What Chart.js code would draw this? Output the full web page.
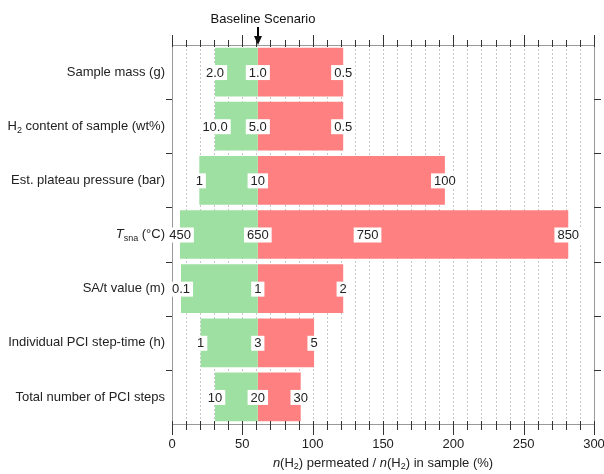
<!DOCTYPE html>
<html>
<head>
<meta charset="utf-8">
<script src="https://cdn.jsdelivr.net/npm/chart.js@4/dist/chart.umd.min.js"></script>
<style>
  html, body { margin: 0; padding: 0; background: #fff; }
  #tornado { display: block; }
</style>
</head>
<body>
<canvas id="tornado" width="604" height="474"></canvas>
<script>
// rows of the tornado, top to bottom
const categories = [
  'Sample mass (g)',
  'H_{2} content of sample (wt%)',
  'Est. plateau pressure (bar)',
  '*T*_{sna} (°C)',
  'SA/t value (m)',
  'Individual PCI step-time (h)',
  'Total number of PCI steps',
];
// n(H2) permeated / n(H2) in sample (%)
const baselinePct = 61;
const lowPct = [30.6, 30.6, 19.4, 5.7, 6.4, 20.4, 30.6];
const highPct = [121.7, 121.7, 194, 281.7, 121.7, 101, 91.5];
const midPct = [null, null, null, 139, null, null, null];
// parameter values written on the bars
const lowLabels = ['2.0', '10.0', '1', '450', '0.1', '1', '10'];
const baseLabels = ['1.0', '5.0', '10', '650', '1', '3', '20'];
const highLabels = ['0.5', '0.5', '100', '850', '2', '5', '30'];
const midLabels = [null, null, null, '750', null, null, null];
const xTicks = [0, 50, 100, 150, 200, 250, 300];
const xTitle = '*n*(H_{2}) permeated / *n*(H_{2}) in sample (%)';

const FONT = '"Liberation Sans", Arial, sans-serif';
const TEXT = '#222';

// draws text with *italic* and _{sub} parts
function richParts(text) {
  return text.split(/(\*[^*]+\*|_\{[^}]+\})/).filter((s) => s).map((s) => {
    if (s[0] === '*') return {t: s.slice(1, -1), style: 'italic', size: 13, dy: 0};
    if (s[0] === '_') return {t: s.slice(2, -1), style: 'normal', size: 9, dy: 4};
    return {t: s, style: 'normal', size: 13, dy: 0};
  });
}
function drawRich(ctx, text, x, y, align) {
  const parts = richParts(text);
  let w = 0;
  parts.forEach((p) => {
    ctx.font = `${p.style} ${p.size}px ${FONT}`;
    p.w = ctx.measureText(p.t).width;
    w += p.w;
  });
  let cx = align === 'right' ? x - w : align === 'center' ? x - w / 2 : x;
  ctx.textAlign = 'left';
  ctx.textBaseline = 'middle';
  parts.forEach((p) => {
    ctx.font = `${p.style} ${p.size}px ${FONT}`;
    ctx.fillText(p.t, cx, y + p.dy);
    cx += p.w;
  });
}

const decor = {
  id: 'decor',
  beforeDatasetsDraw(chart) {
    const {ctx, chartArea: a, scales} = chart;
    ctx.save();
    ctx.strokeStyle = '#c8c8c8';
    ctx.lineWidth = 1;
    ctx.setLineDash([2, 2]);
    for (let v = 10; v < 300; v += 10) {
      const x = Math.round(scales.x.getPixelForValue(v)) + 0.5;
      ctx.beginPath();
      ctx.moveTo(x, a.top);
      ctx.lineTo(x, a.bottom);
      ctx.stroke();
    }
    ctx.restore();
  },
  afterDraw(chart) {
    const {ctx, chartArea: a, scales} = chart;
    const xs = scales.x;
    ctx.save();
    // tick marks on top and bottom axes
    ctx.strokeStyle = '#333';
    ctx.lineWidth = 1;
    for (let v = 0; v <= 300; v += 10) {
      const x = Math.round(xs.getPixelForValue(v)) + 0.5;
      const major = v % 50 === 0;
      ctx.beginPath();
      ctx.moveTo(x, a.top - (major ? 10 : 5));
      ctx.lineTo(x, a.top + 2);
      ctx.moveTo(x, a.bottom - 3);
      ctx.lineTo(x, a.bottom + (major ? 11 : 6));
      ctx.stroke();
    }
    // tick labels of the bottom axis
    ctx.fillStyle = TEXT;
    ctx.font = `13px ${FONT}`;
    ctx.textAlign = 'center';
    ctx.textBaseline = 'middle';
    xTicks.forEach((v) => ctx.fillText(String(v), xs.getPixelForValue(v), 444));
    // category boundary ticks on left and right axes
    const step = (a.bottom - a.top) / categories.length;
    for (let i = 1; i < categories.length; i++) {
      const y = Math.round(a.top + i * step) + 0.5;
      ctx.beginPath();
      ctx.moveTo(a.left - 6, y);
      ctx.lineTo(a.left, y);
      ctx.moveTo(a.right, y);
      ctx.lineTo(a.right + 7, y);
      ctx.stroke();
    }
    // row names
    ctx.fillStyle = TEXT;
    chart.getDatasetMeta(0).data.forEach((bar, i) => {
      drawRich(ctx, categories[i], a.left - 7, bar.y, 'right');
    });
    // value labels on the bars
    const label = (txt, v, y) => {
      if (txt === null || v === null) return;
      ctx.font = `13px ${FONT}`;
      const x = xs.getPixelForValue(v);
      const w = ctx.measureText(txt).width + 6;
      ctx.fillStyle = '#fff';
      ctx.fillRect(x - w / 2, y - 7, w, 15);
      ctx.fillStyle = TEXT;
      ctx.textAlign = 'center';
      ctx.textBaseline = 'middle';
      ctx.fillText(txt, x, y + 1);
    };
    chart.getDatasetMeta(0).data.forEach((bar, i) => {
      label(lowLabels[i], lowPct[i], bar.y);
      label(baseLabels[i], baselinePct, bar.y);
      label(highLabels[i], highPct[i], bar.y);
      label(midLabels[i], midPct[i], bar.y);
    });
    // baseline marker
    const xb = Math.round(xs.getPixelForValue(baselinePct));
    ctx.fillStyle = '#111';
    ctx.font = `13px ${FONT}`;
    ctx.textAlign = 'center';
    ctx.textBaseline = 'middle';
    ctx.fillText('Baseline Scenario', xb + 5, 19);
    ctx.strokeStyle = '#000';
    ctx.lineWidth = 2;
    ctx.beginPath();
    ctx.moveTo(xb, 27);
    ctx.lineTo(xb, 38);
    ctx.stroke();
    ctx.beginPath();
    ctx.moveTo(xb - 4, 36);
    ctx.lineTo(xb + 4, 36);
    ctx.lineTo(xb, a.top);
    ctx.closePath();
    ctx.fill();
    // axis title
    ctx.fillStyle = TEXT;
    drawRich(ctx, xTitle, (a.left + a.right) / 2, 463, 'center');
    ctx.restore();
  },
};

const axisBorder = {display: true, color: '#999', width: 1};

new Chart(document.getElementById('tornado'), {
  type: 'bar',
  data: {
    labels: categories,
    datasets: [
      {
        data: lowPct.map((v) => [v, baselinePct]),
        backgroundColor: '#9de0a1',
      },
      {
        data: highPct.map((v) => [baselinePct, v]),
        backgroundColor: '#ff8080',
      },
    ],
  },
  plugins: [decor],
  options: {
    indexAxis: 'y',
    responsive: false,
    animation: false,
    layout: {padding: 0},
    datasets: {
      bar: {grouped: false, barPercentage: 0.9, categoryPercentage: 1, borderWidth: 0},
    },
    plugins: {legend: {display: false}, tooltip: {enabled: false}},
    scales: {
      x: {
        type: 'linear', position: 'bottom', min: 0, max: 300,
        grid: {display: false}, border: axisBorder, ticks: {display: false},
        afterFit: (s) => { s.height = 50; },
      },
      x2: {
        type: 'linear', position: 'top', min: 0, max: 300,
        grid: {display: false}, border: axisBorder, ticks: {display: false},
        afterFit: (s) => { s.height = 45; },
      },
      y: {
        type: 'category', position: 'left',
        grid: {display: false}, border: axisBorder, ticks: {display: false},
        afterFit: (s) => { s.width = 172; },
      },
      y2: {
        type: 'category', position: 'right', labels: categories,
        grid: {display: false}, border: axisBorder, ticks: {display: false},
        afterFit: (s) => { s.width = 10; },
      },
    },
  },
});
</script>
</body>
</html>
